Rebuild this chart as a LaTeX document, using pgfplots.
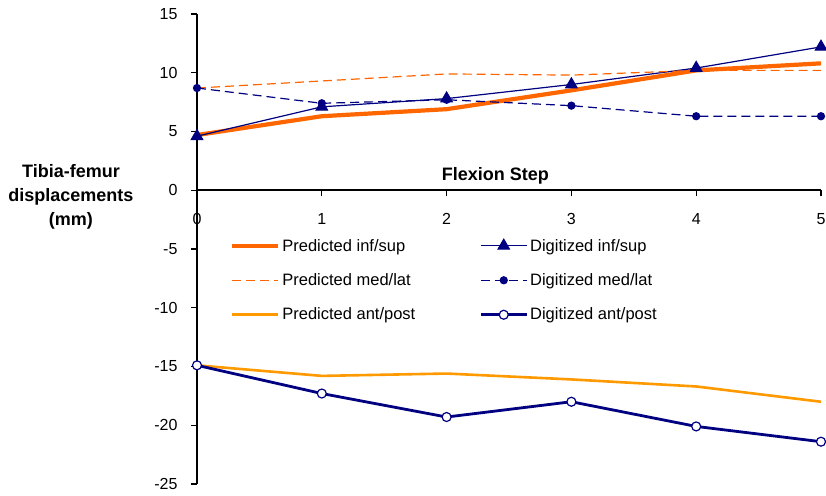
\documentclass[border=0pt]{standalone}
\usepackage{fontspec}
\setmainfont{Liberation Sans}
\usepackage{pgfplots}
\pgfplotsset{compat=1.18}
\definecolor{predorange}{HTML}{FF6600}
\definecolor{antorange}{HTML}{FF9900}
\definecolor{navyblue}{HTML}{000080}

\begin{document}
\begin{tikzpicture}
\begin{axis}[
  scale only axis,
  width=624pt, height=470pt,
  xmin=0, xmax=5, ymin=-25, ymax=15,
  axis x line=middle, axis y line=left,
  axis line style={-, line width=2.4pt, black},
  hide obscured x ticks=false,
  xtick={0,1,2,3,4,5}, ytick={-25,-20,-15,-10,-5,0,5,10,15},
  tick align=outside,
  major tick length=6pt,
  tick style={line width=1.4pt, black},
  /pgf/number format/assume math mode=true,
  tick label style={font=\fontsize{16}{19}\selectfont},
  xticklabel style={yshift=-14pt},
  yticklabel style={xshift=-10pt},
  clip=false,
  legend columns=2,
  legend cell align=left,
  legend style={draw=none, fill=none,
    at={(axis description cs:0.048,0.53)}, anchor=north west,
    font=\fontsize{16.5}{19}\selectfont, row sep=17pt,
    /tikz/every even column/.append style={column sep=62pt}},
  legend image code/.code={\draw[mark repeat=2,mark phase=2,#1]
    plot coordinates {(0pt,0pt) (23pt,0pt) (46pt,0pt)};},
]
% predicted inf/sup
\addplot[predorange, line width=4.2pt, no marks] coordinates {
  (0,4.7) (1,6.3) (2,6.9) (3,8.5) (4,10.2) (5,10.8)};
% digitized inf/sup
\addplot[navyblue, line width=1.2pt, mark=triangle*, mark size=6.5pt] coordinates {
  (0,4.6) (1,7.1) (2,7.8) (3,9.0) (4,10.4) (5,12.2)};
% predicted med/lat
\addplot[predorange, line width=1.2pt, dash pattern=on 9pt off 5pt, no marks] coordinates {
  (0,8.7) (1,9.3) (2,9.9) (3,9.8) (4,10.2) (5,10.2)};
% digitized med/lat
\addplot[navyblue, line width=1.2pt, dash pattern=on 9pt off 5pt, mark=*, mark size=3.5pt, mark options={solid}] coordinates {
  (0,8.7) (1,7.4) (2,7.7) (3,7.2) (4,6.3) (5,6.3)};
% predicted ant/post
\addplot[antorange, line width=2.6pt, no marks] coordinates {
  (0,-14.9) (1,-15.8) (2,-15.6) (3,-16.1) (4,-16.7) (5,-18.0)};
% digitized ant/post
\addplot[navyblue, line width=2.8pt, mark=*, mark size=4.5pt, mark options={fill=white, line width=1.2pt}] coordinates {
  (0,-14.9) (1,-17.3) (2,-19.3) (3,-18.0) (4,-20.1) (5,-21.4)};
\legend{Predicted inf/sup, Digitized inf/sup, Predicted med/lat, Digitized med/lat, Predicted ant/post, Digitized ant/post}
\node[font=\fontsize{18}{21}\selectfont\bfseries] at (axis description cs:0.478,0.655) {Flexion Step};
\node[font=\fontsize{18}{24}\selectfont\bfseries, align=center] at (axis description cs:-0.202,0.611) {Tibia-femur\\displacements\\(mm)};
\coordinate (bl) at (axis cs:0,-25);
\end{axis}
\pgfresetboundingbox
\path (bl) ++(-197pt,-11pt) rectangle ++(826pt,495pt);
\end{tikzpicture}
\end{document}
